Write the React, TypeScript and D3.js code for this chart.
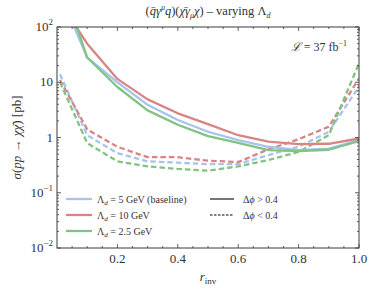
import React from 'react';
import * as d3 from 'd3';

// r_inv grid
const rInv = [0.01, 0.1, 0.2, 0.3, 0.4, 0.5, 0.6, 0.7, 0.8, 0.9, 1.0];

// sigma [pb], delta phi > 0.4 (solid)
const solidBase = [400, 28, 10, 3.9, 2.07, 1.27, 0.9, 0.68, 0.59, 0.63, 0.9];
const solid10 = [280, 50, 11.5, 4.9, 2.74, 1.75, 1.1, 0.84, 0.76, 0.77, 0.96];
const solid25 = [800, 28, 8.2, 3.1, 1.7, 1.06, 0.8, 0.59, 0.57, 0.6, 0.86];

// sigma [pb], delta phi < 0.4 (dashed)
const dashBase = [14, 1.1, 0.52, 0.37, 0.35, 0.33, 0.33, 0.48, 0.68, 1.27, 8.3];
const dash10 = [11, 1.4, 0.68, 0.44, 0.44, 0.38, 0.36, 0.61, 0.93, 1.57, 11.7];
const dash25 = [10, 0.79, 0.37, 0.3, 0.27, 0.25, 0.3, 0.39, 0.55, 1.1, 22];

const xTicks = [0.2, 0.4, 0.6, 0.8, 1.0];
const yTicks = [1e-2, 1e-1, 1, 10, 100];
const yTickExp = ['−2', '−1', '', '', '2'];

const BLUE = '#a7c4ee';
const RED = '#d98484';
const GREEN = '#82c282';

const series = [
  { name: 'base', color: BLUE, solid: solidBase, dash: dashBase },
  { name: 'l10', color: RED, solid: solid10, dash: dash10 },
  { name: 'l25', color: GREEN, solid: solid25, dash: dash25 },
];

const W = 374;
const H = 291;
const left = 57;
const right = 359;
const top = 27;
const bottom = 248;
const serif = "'Liberation Serif', serif";

export default function App() {
  const x = d3.scaleLinear().domain([0, 1]).range([left, right]);
  const y = d3.scaleLog().domain([1e-2, 1e2]).range([bottom, top]);

  const lineGen = (vals: number[]) =>
    d3
      .line<number>()
      .x((d, i) => x(rInv[i]))
      .y((d) => y(d))(vals) || '';

  const xMinor = d3.range(0, 1.0001, 0.05).filter((v) => Math.abs((v * 10) % 2) > 0.01);
  const yMinor: number[] = [];
  for (let e = -2; e < 2; e++) {
    for (let m = 2; m <= 9; m++) yMinor.push(m * Math.pow(10, e));
  }

  const frame = '#3a3a3a';

  return (
    <svg
      width={W}
      height={H}
      style={{ position: 'absolute', left: 0, top: 0, background: '#fff', fontFamily: serif }}
    >
      <defs>
        <clipPath id="plot">
          <rect x={left} y={top} width={right - left} height={bottom - top} />
        </clipPath>
      </defs>

      {/* lines */}
      <g clipPath="url(#plot)" fill="none" strokeWidth={2.3} strokeLinejoin="round">
        {series.map((s) => (
          <path key={s.name + 'd'} d={lineGen(s.dash)} stroke={s.color} strokeDasharray="5.5,3" />
        ))}
        {series.map((s) => (
          <path key={s.name + 's'} d={lineGen(s.solid)} stroke={s.color} />
        ))}
      </g>

      {/* frame */}
      <rect
        x={left}
        y={top}
        width={right - left}
        height={bottom - top}
        fill="none"
        stroke={frame}
        strokeWidth={1}
      />

      {/* ticks */}
      <g stroke={frame} strokeWidth={0.8}>
        {xTicks.map((t) => (
          <g key={'xt' + t}>
            <line x1={x(t)} x2={x(t)} y1={bottom} y2={bottom - 4} />
            <line x1={x(t)} x2={x(t)} y1={top} y2={top + 4} />
          </g>
        ))}
        {xMinor.map((t) => (
          <g key={'xm' + t}>
            <line x1={x(t)} x2={x(t)} y1={bottom} y2={bottom - 2} />
            <line x1={x(t)} x2={x(t)} y1={top} y2={top + 2} />
          </g>
        ))}
        {yTicks.map((t) => (
          <g key={'yt' + t}>
            <line x1={left} x2={left + 4} y1={y(t)} y2={y(t)} />
            <line x1={right} x2={right - 4} y1={y(t)} y2={y(t)} />
          </g>
        ))}
        {yMinor.map((t) => (
          <g key={'ym' + t}>
            <line x1={left} x2={left + 2} y1={y(t)} y2={y(t)} />
            <line x1={right} x2={right - 2} y1={y(t)} y2={y(t)} />
          </g>
        ))}
      </g>

      {/* tick labels */}
      <g fontSize={13} fill="#333">
        {xTicks.map((t) => (
          <text key={'xl' + t} x={x(t)} y={bottom + 15} textAnchor="middle">
            {t.toFixed(1)}
          </text>
        ))}
        {yTicks.map((t, i) => (
          <text key={'yl' + t} x={left - 4} y={y(t) + 4} textAnchor="end">
            {t === 1 ? '1' : '10'}
            {yTickExp[i] && (
              <tspan fontSize={9} dy={-6}>
                {yTickExp[i]}
              </tspan>
            )}
          </text>
        ))}
      </g>

      {/* title */}
      <text x={(left + right) / 2} y={15} textAnchor="middle" fontSize={12.5} fill="#333">
        (<tspan fontStyle="italic">q̄γ</tspan>
        <tspan fontSize={8} dy={-5} fontStyle="italic">μ</tspan>
        <tspan dy={5} fontStyle="italic">q</tspan>)(<tspan fontStyle="italic">χ̄γ</tspan>
        <tspan fontSize={8} dy={3} fontStyle="italic">μ</tspan>
        <tspan dy={-3} fontStyle="italic">χ</tspan>) – varying Λ
        <tspan fontSize={8} dy={3} fontStyle="italic">d</tspan>
      </text>

      {/* luminosity */}
      <text x={347} y={51} textAnchor="end" fontSize={12} fill="#333">
        <tspan fontStyle="italic">ℒ</tspan> = 37 fb
        <tspan fontSize={8} dy={-5}>−1</tspan>
      </text>

      {/* axis labels */}
      <text x={(left + right) / 2} y={281} textAnchor="middle" fontSize={13} fill="#333">
        <tspan fontStyle="italic">r</tspan>
        <tspan fontSize={9} dy={3}>inv</tspan>
      </text>
      <text
        transform={`translate(21, ${(top + bottom) / 2}) rotate(-90)`}
        textAnchor="middle"
        fontSize={13}
        fill="#333"
      >
        <tspan fontStyle="italic">σ</tspan>(<tspan fontStyle="italic">pp</tspan> → <tspan fontStyle="italic">χχ̄</tspan>) [pb]
      </text>

      {/* legend */}
      <g fontSize={10} fill="#333">
        {[
          { c: BLUE, label: '5 GeV (baseline)' },
          { c: RED, label: '10 GeV' },
          { c: GREEN, label: '2.5 GeV' },
        ].map((e, i) => (
          <g key={'lg' + i}>
            <line x1={66} x2={92} y1={199 + i * 16} y2={199 + i * 16} stroke={e.c} strokeWidth={2.3} />
            <text x={97} y={203 + i * 16}>
              Λ<tspan fontSize={7} dy={2} fontStyle="italic">d</tspan>
              <tspan dy={-2}> = {e.label}</tspan>
            </text>
          </g>
        ))}
        <line x1={210} x2={234} y1={199} y2={199} stroke="#555" strokeWidth={1.6} />
        <line x1={210} x2={234} y1={215} y2={215} stroke="#555" strokeWidth={1.6} strokeDasharray="2.5,1.5" />
        <text x={243} y={203}>
          Δ<tspan fontStyle="italic">ϕ</tspan> &gt; 0.4
        </text>
        <text x={243} y={219}>
          Δ<tspan fontStyle="italic">ϕ</tspan> &lt; 0.4
        </text>
      </g>
    </svg>
  );
}
